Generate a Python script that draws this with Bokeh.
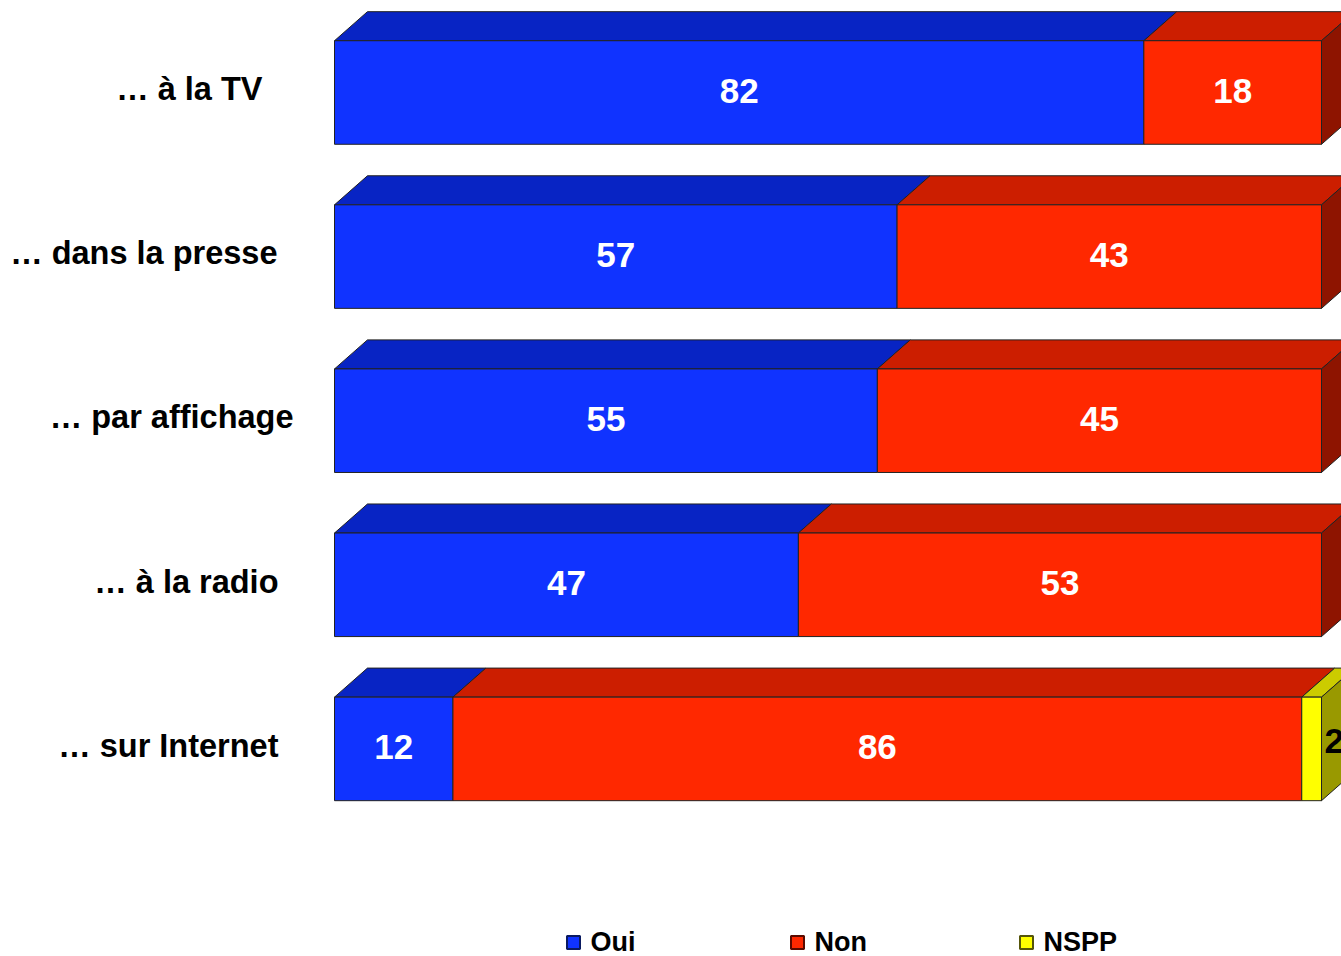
from bokeh.plotting import figure
from bokeh.models import Range1d, ColumnDataSource
from bokeh.core.properties import value
from bokeh.embed import file_html
from bokeh.resources import INLINE

categories = ["… à la TV", "… dans la presse", "… par affichage", "… à la radio", "… sur Internet"]
series_names = ["Oui", "Non", "NSPP"]
oui = [82, 57, 55, 47, 12]
non = [18, 43, 45, 53, 86]
nspp = [0, 0, 0, 0, 2]

front_colors = ["#1033FF", "#FF2800", "#FFFF00"]
top_colors = ["#0824C4", "#CC1E00", "#CCCC00"]
side_colors = ["#0A1A90", "#8E1400", "#999900"]
label_colors = ["white", "white", "black"]
legend_edge = ["#0A1A60", "#5A0A00", "#55550A"]

FONT = "Liberation Sans"
W, H = 1341, 956
PX_PER_PCT = 9.87
X0_PX = 334
ROW_PX = 164.1
Y0_PX = 92


def px_to_x(px):
    return (px - X0_PX) / PX_PER_PCT


def py_to_y(py):
    return (py - Y0_PX) / ROW_PX


p = figure(width=W, height=H, output_backend="svg", toolbar_location=None,
           x_range=Range1d(px_to_x(0), px_to_x(W)), y_range=Range1d(py_to_y(H), py_to_y(0)),
           x_axis_type=None, y_axis_type=None, min_border=0)
p.outline_line_color = None
p.grid.visible = False

bar_h = 0.631
dx = 3.34
dy = 0.177
edge = "#222222"

series = [oui, non, nspp]
n = len(categories)
ys = list(range(n))
lefts = [0.0] * n
for si, vals in enumerate(series):
    L = lefts[:]
    R = [l + v for l, v in zip(L, vals)]
    idx = [i for i in range(n) if vals[i] > 0]
    src = ColumnDataSource(dict(
        left=[L[i] for i in idx], right=[R[i] for i in idx],
        top=[ys[i] - bar_h / 2 for i in idx], bottom=[ys[i] + bar_h / 2 for i in idx]))
    txs, tys = [], []
    for i in idx:
        t = ys[i] - bar_h / 2
        txs.append([L[i], L[i] + dx, R[i] + dx, R[i]])
        tys.append([t, t - dy, t - dy, t])
    p.patches(txs, tys, fill_color=top_colors[si], line_color=edge, line_width=1)
    p.quad(left="left", right="right", top="top", bottom="bottom", source=src,
           fill_color=front_colors[si], line_color=edge, line_width=1)
    lefts = R

# side faces on the last non-zero segment of each row
sxs, sys_, scol = [], [], []
for i in range(n):
    last = max(si for si in range(len(series)) if series[si][i] > 0)
    t = ys[i] - bar_h / 2
    b = ys[i] + bar_h / 2
    x = lefts[i]
    sxs.append([x, x + dx, x + dx, x])
    sys_.append([t, t - dy, b - dy, b])
    scol.append(side_colors[last])
p.patches(sxs, sys_, fill_color=scol, line_color=edge, line_width=1)

# value labels
lefts = [0.0] * n
for si, vals in enumerate(series):
    lx, ly, lt = [], [], []
    for i in range(n):
        if vals[i] > 0:
            if si == 2:
                lx.append(lefts[i] + vals[i] + 0.3)
            else:
                lx.append(lefts[i] + vals[i] / 2)
            ly.append(ys[i] - (0.05 if si == 2 else 0.01))
            lt.append(str(vals[i]))
    if lx:
        p.text(lx, ly, text=lt, text_color=label_colors[si],
               text_font=value(FONT), text_font_style="bold", text_font_size="35px",
               text_align="left" if si == 2 else "center", text_baseline="middle")
    lefts = [l + v for l, v in zip(lefts, vals)]

# category labels (right edges as in the reference text boxes)
label_right_px = [262, 277, 293, 278, 278]
for i in range(n):
    p.text([px_to_x(label_right_px[i])], [ys[i] - 0.02], text=[categories[i]],
           text_color="black", text_font=value(FONT), text_font_style="bold",
           text_font_size="32.5px", text_align="right", text_baseline="middle")

# legend (drawn manually)
legend_sq_px = [573, 797, 1026]
legend_y_px = 941
p.rect([px_to_x(v) for v in legend_sq_px], [py_to_y(legend_y_px + 1)] * 3, width=13, height=13,
       width_units="screen", height_units="screen", fill_color=front_colors,
       line_color=legend_edge, line_width=2)
p.text([px_to_x(v + 17) for v in legend_sq_px], [py_to_y(legend_y_px)] * 3, text=series_names,
       text_color="black", text_font=value(FONT), text_font_style="bold",
       text_font_size="27px", text_align="left", text_baseline="middle")

open("out.html", "w").write(file_html(p, INLINE))
